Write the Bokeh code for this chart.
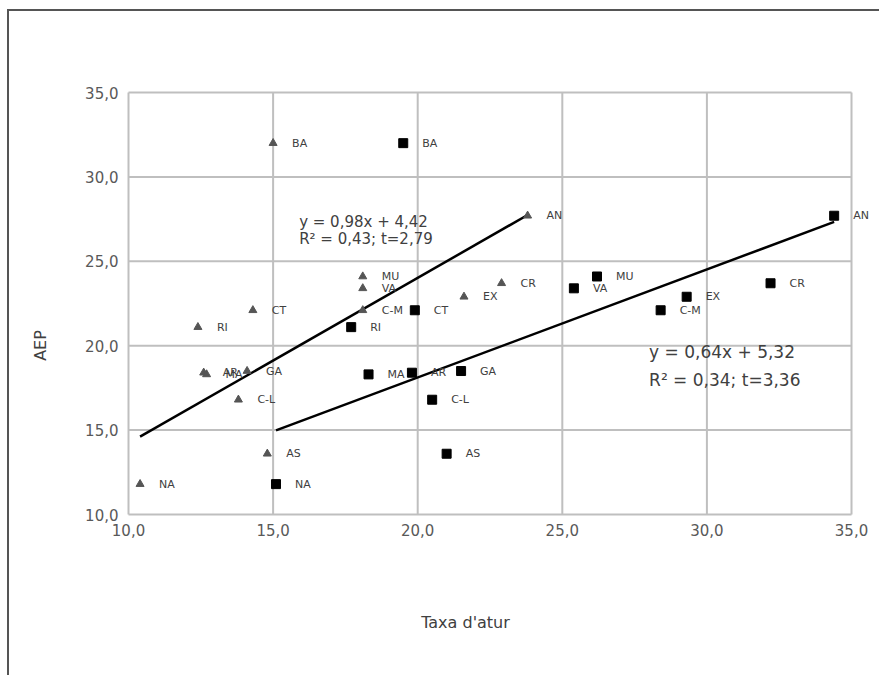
from bokeh.plotting import figure
from bokeh.models import (ColumnDataSource, FixedTicker, CustomJSTickFormatter,
                          LabelSet, Label, InlineStyleSheet)
from bokeh.core.properties import value
from bokeh.embed import file_html
from bokeh.resources import INLINE

# Regions (abbreviations) shared by both series
regions = ["BA", "AN", "MU", "VA", "C-M", "CR", "EX", "CT", "RI",
           "AR", "MA", "GA", "C-L", "AS", "NA"]

# Series 1 (triangles): unemployment rate vs AEP
x_tri = [15.0, 23.8, 18.1, 18.1, 18.1, 22.9, 21.6, 14.3, 12.4,
         12.6, 12.7, 14.1, 13.8, 14.8, 10.4]
y_tri = [32.0, 27.7, 24.1, 23.4, 22.1, 23.7, 22.9, 22.1, 21.1,
         18.4, 18.3, 18.5, 16.8, 13.6, 11.8]

# Series 2 (squares)
x_sq = [19.5, 34.4, 26.2, 25.4, 28.4, 32.2, 29.3, 19.9, 17.7,
        19.8, 18.3, 21.5, 20.5, 21.0, 15.1]
y_sq = [32.0, 27.7, 24.1, 23.4, 22.1, 23.7, 22.9, 22.1, 21.1,
        18.4, 18.3, 18.5, 16.8, 13.6, 11.8]

# Linear fits: slope, intercept, R², t
fit_tri = (0.98, 4.42, 0.43, 2.79)
fit_sq = (0.64, 5.32, 0.34, 3.36)

ticks = [10, 15, 20, 25, 30, 35]

FONT = "DejaVu Sans"
GRID = "#bfbfbf"
TXT = "#404040"

# The plotting area fills the whole canvas; the ranges leave room around the
# 10..35 box for tick labels, axis titles and the point labels at the right.
p = figure(width=872, height=666, x_range=(5.885, 36.037), y_range=(0.344, 39.799),
           output_backend="svg", toolbar_location=None,
           min_border_left=0, min_border_right=0,
           min_border_top=0, min_border_bottom=0)

# thin dark frame on the top and left of the whole chart
p.margin = (9, 0, 0, 7)
p.stylesheets = [InlineStyleSheet(css=":host { border-top: 2px solid #555555;"
                                      " border-left: 2px solid #555555; }")]

p.outline_line_color = None
p.grid.visible = False
p.background_fill_color = "white"
p.border_fill_color = "white"

lo, hi = ticks[0], ticks[-1]

fmt = CustomJSTickFormatter(code="return tick.toFixed(1).replace('.', ',');")
for ax in (p.xaxis[0], p.yaxis[0]):
    ax.fixed_location = lo
    ax.ticker = FixedTicker(ticks=ticks)
    ax.formatter = fmt
    ax.axis_line_color = None
    ax.major_tick_line_color = None
    ax.minor_tick_line_color = None
    ax.major_tick_out = 0
    ax.major_tick_in = 0
    ax.major_label_text_font = FONT
    ax.major_label_text_font_size = "15px"
    ax.major_label_text_color = "#595959"
p.xaxis.major_label_standoff = 9
p.yaxis.major_label_standoff = 10

# Grid box: vertical and horizontal lines at every tick, bounded by 10..35
p.segment(x0=ticks, y0=[lo] * len(ticks), x1=ticks, y1=[hi] * len(ticks),
          line_color=GRID, line_width=2)
p.segment(x0=[lo] * len(ticks), y0=ticks, x1=[hi] * len(ticks), y1=ticks,
          line_color=GRID, line_width=2)

# Axis titles
p.add_layout(Label(x=456, y=55, x_units="screen", y_units="screen",
                   text="Taxa d'atur", text_align="center", text_baseline="middle",
                   text_font=FONT, text_font_size="16px", text_color=TXT))
p.add_layout(Label(x=31, y=332, x_units="screen", y_units="screen",
                   text="AEP", angle=1.5708, text_align="center",
                   text_baseline="middle",
                   text_font=FONT, text_font_size="16px", text_color=TXT))

# Trend lines, drawn from the fitted coefficients over each series' x span
for xs, (a, b, _, _) in ((x_tri, fit_tri), (x_sq, fit_sq)):
    x0, x1 = min(xs), max(xs)
    p.line([x0, x1], [a * x0 + b, a * x1 + b], line_color="black", line_width=2.5)

src_tri = ColumnDataSource(dict(x=x_tri, y=y_tri, lab=regions))
src_sq = ColumnDataSource(dict(x=x_sq, y=y_sq, lab=regions))

p.scatter("x", "y", source=src_tri, marker="triangle", size=8,
          fill_color="#555555", line_color="#555555")
p.scatter("x", "y", source=src_sq, marker="square", size=9,
          fill_color="black", line_color="black")

for src in (src_tri, src_sq):
    p.add_layout(LabelSet(x="x", y="y", text="lab", source=src, x_offset=19,
                          text_baseline="middle", text_align="left",
                          text_font=value(FONT), text_font_size=value("11px"),
                          text_color=TXT))

def fit_text(fit):
    a, b, r2, t = fit
    f = lambda v: f"{v:.2f}".replace(".", ",")
    return f"y = {f(a)}x + {f(b)}", f"R² = {f(r2)}; t={f(t)}"

e1 = fit_text(fit_tri)
e2 = fit_text(fit_sq)
p.text([15.9, 15.9], [27.3, 26.35], text=list(e1),
       text_baseline="middle", text_align="left",
       text_font=value(FONT), text_font_size="15px", text_color=TXT)
p.text([28.0, 28.0], [19.6, 17.95], text=list(e2),
       text_baseline="middle", text_align="left",
       text_font=value(FONT), text_font_size="17px", text_color=TXT)

open("out.html", "w").write(file_html(p, INLINE))
